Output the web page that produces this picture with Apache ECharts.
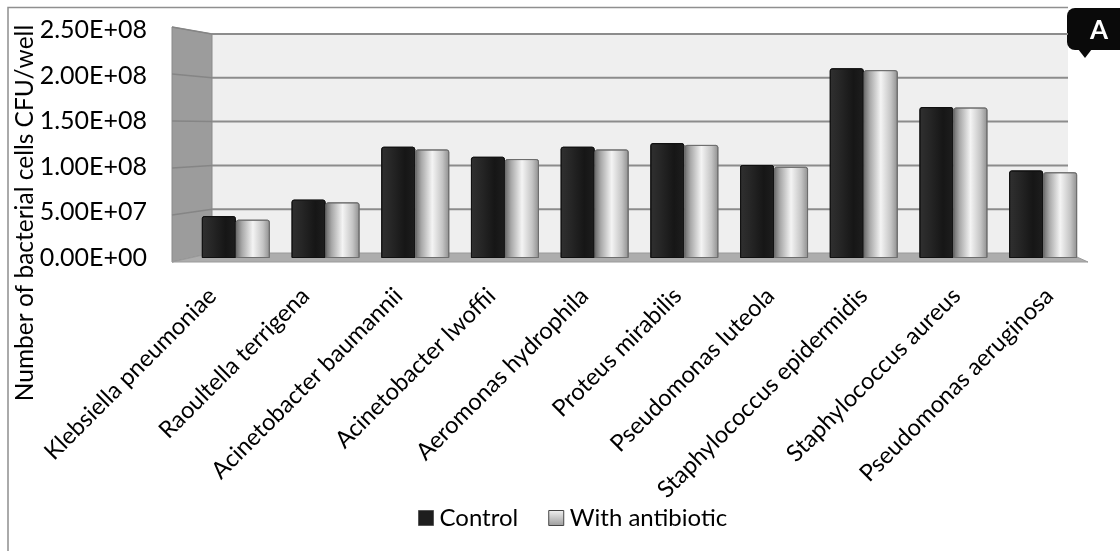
<!DOCTYPE html>
<html>
<head>
<meta charset="utf-8">
<script src="https://cdn.jsdelivr.net/npm/echarts@6/dist/echarts.min.js"></script>
<style>
  html, body { margin: 0; padding: 0; background: #ffffff; }
  #chart { width: 1120px; height: 551px; }
</style>
</head>
<body>
<div id="chart"></div>
<script>
// Bacterial counts per well, with and without antibiotic
const categories = [
  'Klebsiella pneumoniae',
  'Raoultella terrigena',
  'Acinetobacter baumannii',
  'Acinetobacter lwoffii',
  'Aeromonas hydrophila',
  'Proteus mirabilis',
  'Pseudomonas luteola',
  'Staphylococcus epidermidis',
  'Staphylococcus aureus',
  'Pseudomonas aeruginosa'
];
const controlValues = [4.6e7, 6.4e7, 1.22e8, 1.11e8, 1.22e8, 1.26e8, 1.02e8, 2.08e8, 1.655e8, 9.6e7];
const antibioticValues = [4.2e7, 6.1e7, 1.19e8, 1.085e8, 1.19e8, 1.24e8, 1.0e8, 2.06e8, 1.65e8, 9.4e7];
const yTickValues = [0, 5e7, 1e8, 1.5e8, 2e8, 2.5e8];
const yTickLabels = ['0.00E+00', '5.00E+07', '1.00E+08', '1.50E+08', '2.00E+08', '2.50E+08'];
const seriesNames = ['Control', 'With antibiotic'];
const yTitle = 'Number of bacterial cells CFU/well';
const panelLetter = 'A';

const FONT = 'Lato, "Noto Sans", sans-serif';

const controlFill = new echarts.graphic.LinearGradient(0, 0, 1, 0, [
  { offset: 0, color: '#303030' },
  { offset: 0.3, color: '#262626' },
  { offset: 0.7, color: '#161616' },
  { offset: 1, color: '#1e1e1e' }
]);
const antibioticFill = new echarts.graphic.LinearGradient(0, 0, 1, 0, [
  { offset: 0, color: '#6a6a6a' },
  { offset: 0.18, color: '#a8a8a8' },
  { offset: 0.5, color: '#f4f4f4' },
  { offset: 0.8, color: '#c4c4c4' },
  { offset: 1, color: '#8e8e8e' }
]);

const chart = echarts.init(document.getElementById('chart'), null, { renderer: 'canvas' });

const option = {
  backgroundColor: '#ffffff',
  animation: false,
  textStyle: { fontFamily: FONT, color: '#000' },
  grid: [
    // plot area (bars)
    { left: 191, right: 32, top: 30, bottom: 293, containLabel: false },
    // front edge of the floor, where the category labels sit (wider in perspective)
    { left: 166, right: 24, top: 30, bottom: 293, containLabel: false }
  ],
  legend: {
    data: seriesNames,
    bottom: 16,
    left: 413,
    icon: 'rect',
    itemWidth: 15,
    itemHeight: 15,
    itemGap: 30,
    textStyle: { fontFamily: FONT, fontSize: 24, color: '#000', padding: [0, 0, 0, 1] }
  },
  xAxis: [
    {
      type: 'category',
      gridIndex: 0,
      data: categories,
      axisLine: { show: false },
      axisTick: { show: false },
      axisLabel: { show: false }
    },
    {
      type: 'category',
      gridIndex: 1,
      data: categories,
      axisLine: { show: false },
      axisTick: { show: false },
      axisLabel: {
        interval: 0,
        rotate: 45,
        margin: 34,
        fontFamily: FONT,
        fontSize: 23.6,
        color: '#000'
      }
    }
  ],
  yAxis: [
    {
      type: 'value',
      gridIndex: 0,
      min: yTickValues[0],
      max: yTickValues[yTickValues.length - 1],
      interval: yTickValues[1] - yTickValues[0],
      axisLine: { show: false },
      axisTick: { show: false },
      splitLine: { show: false },
      axisLabel: {
        margin: 44,
        fontFamily: FONT,
        fontSize: 25,
        color: '#000',
        formatter: (v, i) => yTickLabels[i]
      }
    },
    {
      type: 'value',
      gridIndex: 1,
      show: false,
      min: yTickValues[0],
      max: yTickValues[yTickValues.length - 1]
    }
  ],
  series: [
    {
      name: seriesNames[0],
      type: 'bar',
      xAxisIndex: 0,
      yAxisIndex: 0,
      data: controlValues,
      barWidth: 34,
      barGap: '0%',
      z: 5,
      itemStyle: { color: controlFill, borderColor: '#111', borderWidth: 1, borderRadius: [2, 2, 0, 0] }
    },
    {
      name: seriesNames[1],
      type: 'bar',
      xAxisIndex: 0,
      yAxisIndex: 0,
      data: antibioticValues,
      barWidth: 34,
      barGap: '0%',
      z: 5,
      itemStyle: { color: antibioticFill, borderColor: '#6e6e6e', borderWidth: 1, borderRadius: [2, 2, 0, 0] }
    }
  ]
};

chart.setOption(option);

// Walls, floor and back-wall gridlines placed from the axis scales
const yMax = yTickValues[yTickValues.length - 1];
const x0 = chart.convertToPixel({ xAxisIndex: 0 }, categories[0]);
const xN = chart.convertToPixel({ xAxisIndex: 0 }, categories[categories.length - 1]);
const band = (xN - x0) / (categories.length - 1);
const left = x0 - band / 2;
const right = xN + band / 2;
const yZero = chart.convertToPixel({ yAxisIndex: 0 }, 0);
const yTop = chart.convertToPixel({ yAxisIndex: 0 }, yMax);

// perspective depth of the box
const dx = 40, dyTop = 7;
const frontL = left - 19;
const backL = frontL + dx;
const backR = right - 20;
const frontR = right;
const backZero = yZero - 5;
const backTop = yTop + 4;
const frontZero = yZero + 4;
const frontTop = backTop - dyTop;

function backY(v) {
  return backZero - (v / yMax) * (backZero - backTop);
}

const graphics = [];
// back wall
graphics.push({
  type: 'rect', z: 0, silent: true,
  shape: { x: backL, y: backTop, width: backR - backL, height: backZero - backTop },
  style: { fill: '#efefef' }
});
// side wall
graphics.push({
  type: 'polygon', z: 1, silent: true,
  shape: { points: [[frontL, frontTop], [backL, backTop], [backL, backZero], [frontL, frontZero]] },
  style: { fill: '#9c9c9c', stroke: '#8a8a8a', lineWidth: 1 }
});
// gridlines on the back wall and the side wall
yTickValues.forEach(v => {
  const yb = backY(v);
  const frac = v / yMax;
  const yf = frontZero - frac * (frontZero - frontTop);
  if (v > 0) {
    graphics.push({
      type: 'line', z: 2, silent: true,
      shape: { x1: backL, y1: yb, x2: backR, y2: yb },
      style: { stroke: '#8c8c8c', lineWidth: 2 }
    });
    graphics.push({
      type: 'line', z: 2, silent: true,
      shape: { x1: frontL, y1: yf, x2: backL, y2: yb },
      style: { stroke: '#858585', lineWidth: 1.5 }
    });
  }
});
// floor
graphics.push({
  type: 'polygon', z: 2, silent: true,
  shape: { points: [[frontL, frontZero], [backL, backZero], [backR, backZero], [frontR, frontZero]] },
  style: { fill: '#adadad', stroke: '#9a9a9a', lineWidth: 1 }
});
// outer frame
graphics.push({
  type: 'polyline', z: 1, silent: true,
  shape: { points: [[8, 551], [8, 7.5], [1068, 7.5]] },
  style: { stroke: '#8f8f8f', lineWidth: 1.5, fill: null }
});
// axis title
graphics.push({
  type: 'text', z: 10, silent: true,
  x: 25, y: 213, rotation: Math.PI / 2,
  style: {
    text: yTitle, fontFamily: FONT, fontSize: 24.5, fill: '#000',
    align: 'center', verticalAlign: 'middle'
  }
});
// panel badge
graphics.push({
  type: 'group', z: 20, silent: true,
  children: [
    { type: 'rect', shape: { x: 1067, y: 8, width: 70, height: 42, r: 8 }, style: { fill: '#0a0a0a' } },
    { type: 'polygon', shape: { points: [[1078, 49], [1092, 49], [1085, 58]] }, style: { fill: '#0a0a0a' } },
    {
      type: 'text', x: 1099, y: 31,
      style: { text: panelLetter, fontFamily: FONT, fontWeight: 'bold', fontSize: 26, fill: '#fff', align: 'center', verticalAlign: 'middle' }
    }
  ]
});

chart.setOption({
  graphic: graphics,
  legend: {
    data: [
      { name: seriesNames[0], itemStyle: { color: '#1e1e1e', borderColor: '#555', borderWidth: 1 } },
      { name: seriesNames[1], itemStyle: { color: new echarts.graphic.LinearGradient(0, 0, 0, 1, [
        { offset: 0, color: '#f2f2f2' }, { offset: 1, color: '#9a9a9a' }]), borderColor: '#444', borderWidth: 1 } }
    ]
  }
});
</script>
</body>
</html>
